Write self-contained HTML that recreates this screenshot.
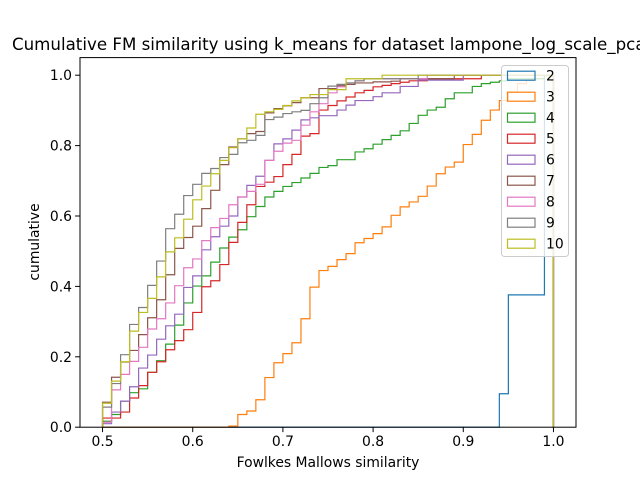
<!DOCTYPE html>
<html><head><meta charset="utf-8"><style>
html,body{margin:0;padding:0;background:#fff;}
svg{display:block;font-family:"DejaVu Sans","Liberation Sans",sans-serif;}
</style></head><body>
<svg id="chart" width="640" height="480" viewBox="0 0 640 480">
<rect width="640" height="480" fill="#fff"/>
<text x="12" y="50" font-size="16.67" fill="#000">Cumulative FM similarity using k_means for dataset lampone_log_scale_pca</text>
<g id="series"></g>
<rect x="80" y="57.6" width="496" height="369.6" fill="none" stroke="#000" stroke-width="1"/>
<g id="xticks"></g>
<g id="yticks"></g>
<text x="328" y="467" font-size="13.9" text-anchor="middle">Fowlkes Mallows similarity</text>
<text transform="translate(39,242) rotate(-90)" font-size="13.9" text-anchor="middle">cumulative</text>
<g id="legend">
<rect x="501.5" y="65.5" width="67" height="191" rx="3" fill="#fff" fill-opacity="0.8" stroke="#ccc"/>
</g>
</svg>
<script>
const binStart = 0.5;
const binWidth = 0.01;
const seriesLabels = ["2","3","4","5","6","7","8","9","10"];
const seriesColors = ["#1f77b4","#ff7f0e","#2ca02c","#d62728","#9467bd","#8c564b","#e377c2","#7f7f7f","#bcbd22"];
const xTickLabels = ["0.5","0.6","0.7","0.8","0.9","1.0"];
const yTickLabels = ["0.0","0.2","0.4","0.6","0.8","1.0"];
const zeros = n => Array(n).fill(0);
const ones = n => Array(n).fill(1);
const rep = (v,n) => Array(n).fill(v);
const s2 = zeros(44).concat([0.095,0.376,0.376,0.376,0.376,1]);
const s3 = zeros(14).concat([0.003,0.036,0.046,0.078,0.141,0.183,0.209,0.240,0.308,0.398,0.445,0.457,0.476,0.493,0.524,0.536,0.550,0.569,0.602,0.626,0.640,0.656,0.685,0.720,0.739,0.753,0.803,0.832,0.872,0.901,0.928,0.952,0.976,0.986,0.990,1]);
const s4 = [0.017,0.036,0.074,0.098,0.109,0.156,0.189,0.236,0.290,0.353,0.401,0.430,0.469,0.509,0.540,0.561,0.598,0.627,0.654,0.670,0.684,0.695,0.708,0.721,0.738,0.743,0.760,0.760,0.782,0.791,0.804,0.817,0.829,0.842,0.863,0.886,0.901,0.909,0.933,0.950,0.950,0.968,0.976,0.980,0.984].concat(rep(0.99,4),[1]);
const s5 = [0.026,0.026,0.043,0.083,0.118,0.156,0.186,0.220,0.246,0.277,0.326,0.399,0.416,0.462,0.525,0.582,0.632,0.684,0.696,0.712,0.746,0.775,0.827,0.834,0.901,0.914,0.927,0.938,0.950,0.957,0.967,0.971,0.976,0.980,0.984,0.984].concat(rep(0.99,6),ones(8));
const s6 = [0.01,0.043,0.074,0.115,0.168,0.205,0.250,0.288,0.321,0.397,0.430,0.504,0.541,0.571,0.600,0.654,0.687,0.713,0.758,0.805,0.819,0.844,0.873,0.879,0.885,0.885,0.901,0.915,0.928,0.928,0.939,0.950,0.950,0.968,0.968,0.986,0.986,0.986,0.986,0.986].concat(ones(10));
const s7 = [0.071,0.142,0.185,0.218,0.263,0.311,0.362,0.433,0.508,0.539,0.571,0.621,0.673,0.746,0.796,0.819,0.834,0.840,0.893,0.905,0.913,0.922,0.936,0.936,0.962,0.962,0.970,0.974,0.978,0.978,0.981,0.981,0.983].concat(rep(0.99,6),ones(11));
const s8 = [0.014,0.106,0.150,0.187,0.227,0.279,0.308,0.353,0.402,0.453,0.478,0.530,0.567,0.593,0.632,0.654,0.670,0.690,0.758,0.784,0.807,0.815,0.858,0.896,0.919,0.950,0.967,0.978,0.984].concat(rep(0.99,7),ones(14));
const s9 = [0.057,0.124,0.206,0.292,0.340,0.403,0.472,0.564,0.605,0.658,0.690,0.721,0.735,0.766,0.775,0.808,0.815,0.829,0.874,0.881,0.891,0.896,0.900,0.919,0.936,0.969,0.974,0.978,0.984].concat(rep(0.99,6),ones(15));
const s10 = [0.068,0.131,0.186,0.273,0.326,0.366,0.427,0.498,0.538,0.591,0.646,0.685,0.720,0.758,0.794,0.819,0.850,0.889,0.896,0.903,0.914,0.927,0.936,0.945,0.945,0.959,0.959,0.99,0.99,0.99,0.99].concat(ones(19));
const seriesValues = [s2,s3,s4,s5,s6,s7,s8,s9,s10];

const NS = "http://www.w3.org/2000/svg";
const xMin = 0.475, xMax = 1.025, yMin = 0, yMax = 1.05;
const L = 80, R = 576, T = 57.6, B = 427.2;
const xs = v => L + (v - xMin) / (xMax - xMin) * (R - L);
const ys = v => B - (v - yMin) / (yMax - yMin) * (B - T);

const sg = document.getElementById('series');
seriesValues.forEach((vals, k) => {
  let d = "M" + xs(binStart) + "," + ys(0);
  vals.forEach((v, i) => {
    d += " V" + ys(v).toFixed(2) + " H" + xs(binStart + (i + 1) * binWidth).toFixed(2);
  });
  d += " V" + ys(0);
  const p = document.createElementNS(NS, 'path');
  p.setAttribute('d', d);
  p.setAttribute('fill', 'none');
  p.setAttribute('stroke', seriesColors[k]);
  p.setAttribute('stroke-width', '1.2');
  
  
  sg.appendChild(p);
});

const xg = document.getElementById('xticks');
xTickLabels.forEach(lab => {
  const x = xs(parseFloat(lab));
  const ln = document.createElementNS(NS, 'line');
  ln.setAttribute('x1', x); ln.setAttribute('x2', x);
  ln.setAttribute('y1', B); ln.setAttribute('y2', B + 4.9);
  ln.setAttribute('stroke', '#000');
  
  
  xg.appendChild(ln);
  const t = document.createElementNS(NS, 'text');
  t.setAttribute('x', x); t.setAttribute('y', B + 19);
  t.setAttribute('font-size', '13.9');
  t.setAttribute('text-anchor', 'middle');
  t.textContent = lab;
  
  
  xg.appendChild(t);
});
const yg = document.getElementById('yticks');
yTickLabels.forEach(lab => {
  const y = ys(parseFloat(lab));
  const ln = document.createElementNS(NS, 'line');
  ln.setAttribute('x1', L - 4.9); ln.setAttribute('x2', L);
  ln.setAttribute('y1', y); ln.setAttribute('y2', y);
  ln.setAttribute('stroke', '#000');
  
  
  yg.appendChild(ln);
  const t = document.createElementNS(NS, 'text');
  t.setAttribute('x', L - 8); t.setAttribute('y', y + 5);
  t.setAttribute('font-size', '13.9');
  t.setAttribute('text-anchor', 'end');
  t.textContent = lab;
  
  
  yg.appendChild(t);
});

const lg = document.getElementById('legend');
seriesLabels.forEach((lab, k) => {
  const cy = 75.7 + k * 21;
  const r = document.createElementNS(NS, 'rect');
  r.setAttribute('x', 507.5); r.setAttribute('y', cy - 4.5);
  r.setAttribute('width', 27.5); r.setAttribute('height', 9);
  r.setAttribute('fill', 'none');
  r.setAttribute('stroke', seriesColors[k]);
  r.setAttribute('stroke-width', '1.2');
  
  
  lg.appendChild(r);
  const t = document.createElementNS(NS, 'text');
  t.setAttribute('x', 546); t.setAttribute('y', cy + 5);
  t.setAttribute('font-size', '13.9');
  t.textContent = lab;
  
  
  lg.appendChild(t);
});
</script>
</body></html>
